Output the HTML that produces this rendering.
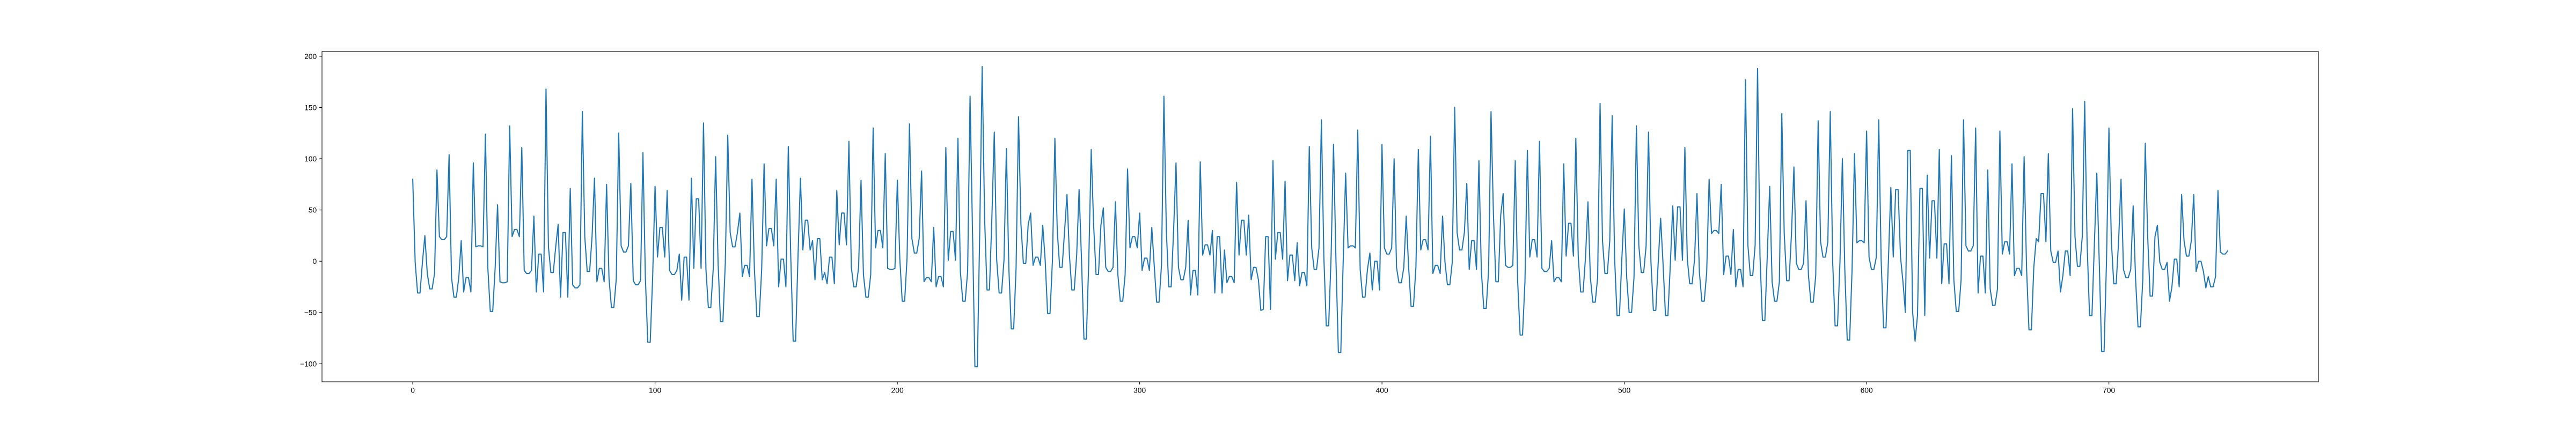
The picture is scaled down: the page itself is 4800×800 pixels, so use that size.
<!DOCTYPE html>
<html><head><meta charset="utf-8"><style>
html,body{margin:0;padding:0;background:#fff;}
svg{display:block;font-family:"Liberation Sans","DejaVu Sans",sans-serif;}
</style></head><body>
<svg id="chart" width="4800" height="800" viewBox="0 0 4800 800" xmlns="http://www.w3.org/2000/svg">
<rect x="0" y="0" width="4800" height="800" fill="#fff"/>
<g id="plot"></g>
</svg>
<script>
const xTicks = [0,100,200,300,400,500,600,700];
const yTicks = [-100,-50,0,50,100,150,200];
const values = [
80,-1,-31,-31,-1, 25,-12,-27,-27,-12, 89,24,21,21,24, 104,-16,-35,-35,-16,
20,-30,-16,-16,-30, 96,14,15,15,14, 124,-7,-49,-49,-7, 55,-20,-21,-21,-20,
132,24,31,31,24, 111,-9,-12,-12,-9, 44,-30,7,7,-30, 168,14,-11,-11,14,
36,-35,28,28,-35, 71,-23,-26,-26,-23, 146,24,-10,-10,24, 81,-20,-7,-7,-20,
75,-17,-45,-45,-17, 125,15,9,9,15, 76,-19,-23,-23,-19, 106,-16,-79,-79,-16,
73,4,33,33,4, 69,-9,-13,-13,-9, 7,-38,4,4,-38, 81,-7,61,61,-7,
135,-8,-45,-45,-8, 102,-1,-59,-59,-1, 123,28,14,14,28, 47,-15,-4,-4,-15,
80,-8,-54,-54,-8, 95,15,32,32,15, 80,-25,2,2,-25, 112,5,-78,-78,5,
81,11,40,40,11, 20,-18,22,22,-18, -11,-22,4,4,-22, 69,16,47,47,16,
117,-6,-25,-25,-6, 79,-13,-35,-35,-13, 130,13,30,30,13, 105,-7,-8,-8,-7,
79,3,-39,-39,3, 134,22,8,8,22, 88,-20,-16,-16,-20, 33,-25,-15,-15,-25,
111,1,29,29,1, 120,-10,-39,-39,-10, 161,30,-103,-103,30, 190,42,-28,-28,42,
126,1,-31,-31,1, 110,-6,-66,-66,-6, 141,36,-2,-2,36, 47,-4,4,4,-4,
35,1,-51,-51,1, 120,29,-6,-6,29, 65,6,-28,-28,6, 70,1,-76,-76,1,
109,35,-13,-13,35, 52,-6,-10,-10,-6, 58,-13,-39,-39,-13, 90,13,24,24,13,
47,-9,3,3,-9, 33,-4,-40,-40,-4, 161,30,-25,-25,30, 96,-6,-18,-18,-6,
40,-33,-9,-9,-33, 97,6,16,16,6, 30,-31,24,24,-31, 11,-21,-15,-15,-21,
77,6,40,40,6, 45,-18,-6,-6,-18, -48,-47,24,24,-47, 98,2,28,28,2,
78,-19,6,6,-19, 18,-24,-11,-11,-24, 112,13,-8,-8,13, 138,5,-63,-63,5,
114,1,-89,-89,1, 86,13,15,15,13, 128,-8,-35,-35,-8, 8,-28,0,0,-28,
114,13,7,7,13, 100,-6,-21,-21,-6, 44,-6,-44,-44,-6, 109,11,21,21,11,
122,-12,-4,-4,-12, 44,-1,-23,-23,-1, 150,28,11,11,28, 76,-8,20,20,-8,
98,-9,-46,-46,-9, 146,45,-20,-20,45, 66,-4,-6,-6,-4, 98,-20,-72,-72,-20,
108,4,21,21,4, 117,-7,-10,-10,-7, 20,-20,-16,-16,-20, 95,5,37,37,5,
120,4,-30,-30,4, 58,-16,-40,-40,-16, 154,20,-12,-12,20, 142,3,-53,-53,3,
51,-16,-50,-50,-16, 132,15,-11,-11,15, 126,-1,-48,-48,-1, 42,-3,-53,-53,-3,
54,1,53,53,1, 111,2,-22,-22,2, 66,-11,-39,-39,-11, 80,27,30,30,27,
75,-13,5,5,-13, 31,-25,-8,-8,-25, 177,16,-14,-14,16, 188,5,-58,-58,5,
73,-20,-39,-39,-20, 144,27,-19,-19,27, 92,-2,-8,-8,-2, 59,-14,-40,-40,-14,
137,19,4,4,19, 146,-1,-63,-63,-1, 100,-8,-77,-77,-8, 105,18,20,20,18,
127,4,-8,-8,4, 138,1,-65,-65,1, 72,4,70,70,4, -20,-50,108,108,-50,
-78,-53,71,71,-53, 84,3,59,59,3, 109,-22,17,17,-22, 103,-18,-49,-49,-18,
138,15,10,10,15, 130,-31,5,5,-31, 89,-27,-43,-43,-27, 127,7,19,19,7,
95,-14,-7,-7,-14, 102,-6,-67,-67,-6, 22,19,66,66,19, 105,10,-1,-1,10,
-30,-14,10,10,-14, 149,24,-5,-5,24, 156,17,-53,-53,17, 86,0,-88,-88,0,
130,20,-22,-22,20, 80,-8,-16,-16,-8, 54,-17,-64,-64,-17, 115,24,-34,-34,24,
35,-1,-8,-8,-1, -39,-25,2,2,-25, 65,20,5,5,20, 65,-10,0,0,-10,
-26,-15,-25,-25,-15, 69,9,7,7,10
];

const NS = "http://www.w3.org/2000/svg";
const plot = document.getElementById("plot");
const L = 600, R = 4320, T = 96, B = 712;
const n = values.length;
const xMin = -0.05 * (n - 1), xMax = (n - 1) * 1.05;
const vMin = Math.min(...values), vMax = Math.max(...values);
const yMin = vMin - 0.05 * (vMax - vMin), yMax = vMax + 0.05 * (vMax - vMin);
function xs(v){ return L + (v - xMin) / (xMax - xMin) * (R - L); }
function ys(v){ return B - (v - yMin) / (yMax - yMin) * (B - T); }
function mk(tag, attrs){ const e = document.createElementNS(NS, tag); for (const k in attrs) e.setAttribute(k, attrs[k]); return e; }

// series line
const pts = values.map((v, i) => xs(i).toFixed(2) + "," + ys(v).toFixed(2)).join(" ");
const line = mk("polyline", {points: pts, fill: "none", stroke: "#1f77b4", "stroke-width": "2.08", "stroke-linejoin": "round", "stroke-linecap": "square"});


plot.appendChild(line);

// spines
const frame = mk("rect", {x: L, y: T, width: R - L, height: B - T, fill: "none", stroke: "#000", "stroke-width": "1.11"});


plot.appendChild(frame);

// x ticks
xTicks.forEach(t => {
  const x = xs(t);
  const tk = mk("line", {x1: x, x2: x, y1: B, y2: B + 4.86, stroke: "#000", "stroke-width": "1.11"});
  
  
  plot.appendChild(tk);
  const lb = mk("text", {x: x, y: B + 4.86 + 4.86 + 11, "text-anchor": "middle", "font-size": "13.9", fill: "#000"});
  lb.textContent = String(t);
  
  
  plot.appendChild(lb);
});

// y ticks
yTicks.forEach(t => {
  const y = ys(t);
  const tk = mk("line", {x1: L - 4.86, x2: L, y1: y, y2: y, stroke: "#000", "stroke-width": "1.11"});
  
  
  plot.appendChild(tk);
  const lb = mk("text", {x: L - 4.86 - 4.86, y: y + 5, "text-anchor": "end", "font-size": "13.9", fill: "#000"});
  lb.textContent = t < 0 ? "\u2212" + Math.abs(t) : String(t);
  
  
  plot.appendChild(lb);
});
</script>
</body></html>
